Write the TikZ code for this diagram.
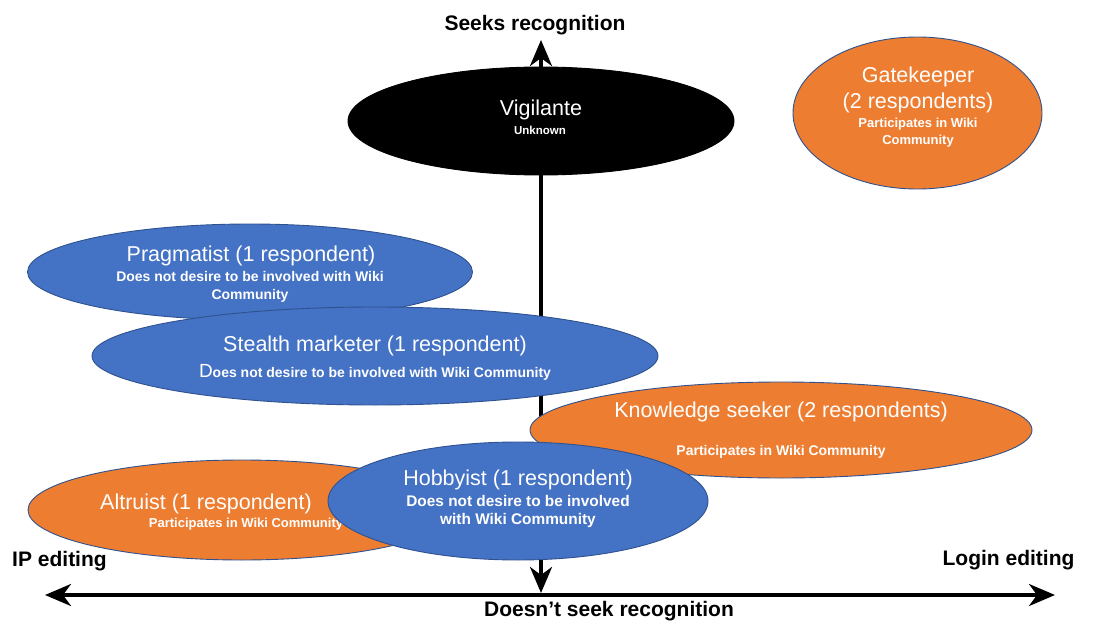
\documentclass[tikz,border=0pt]{standalone}
\usepackage{fontspec}
\setmainfont{Liberation Sans}
\usetikzlibrary{shapes.geometric,arrows.meta}
\definecolor{pblue}{HTML}{4472C4}
\definecolor{porange}{HTML}{ED7D31}
\definecolor{pedge}{HTML}{2F528F}
\tikzset{
  persona/.style={ellipse, draw=pedge, line width=0.9pt, inner sep=0pt},
  bluep/.style={persona, fill=pblue},
  orangep/.style={persona, fill=porange},
  blackp/.style={persona, fill=black, draw=black},
  ttl/.style={text=white, align=center, inner sep=0pt, yshift=-1.5pt, font=\fontsize{21.5}{26}\selectfont},
  sub/.style={text=white, align=center, inner sep=0pt, yshift=-1pt, font=\bfseries\fontsize{14}{18}\selectfont},
  axislbl/.style={inner sep=0pt, yshift=-1.5pt, font=\bfseries\fontsize{21}{24}\selectfont},
  axis/.style={line width=3.5pt, {Stealth[length=26pt,width=22pt,inset=8pt]}-{Stealth[length=26pt,width=22pt,inset=8pt]}}
}
\begin{document}
\begin{tikzpicture}[x=1pt,y=-1pt]
\useasboundingbox (0,0) rectangle (1111,623);
% axes
\coordinate (vtop) at (541,40);
\coordinate (vbot) at (541,593);
\coordinate (hl) at (45,595);
\coordinate (hr) at (1055,595);
\draw[axis] (vtop) -- (vbot);
\draw[axis] (hl) -- (hr);
\node[axislbl] (seeks) at (535,24) {Seeks recognition};
\node[axislbl] (noseek) at (609,610) {Doesn’t seek recognition};
\node[axislbl] (ip) at (59.5,560) {IP editing};
\node[axislbl] (login) at (1008.5,559) {Login editing};
% Vigilante
\node[blackp, minimum width=386pt, minimum height=108pt] (vig) at (541,121) {};
\node[ttl] (vigt) at (541,108) {Vigilante};
\node[sub, font=\bfseries\fontsize{11.5}{14}\selectfont] (vigs) at (540,129) {Unknown};
% Gatekeeper
\node[orangep, minimum width=249pt, minimum height=152pt] (gate) at (917.5,113) {};
\node[ttl] (gatet) at (918,88) {Gatekeeper\\(2 respondents)};
\node[sub, font=\bfseries\fontsize{13}{17}\selectfont] (gates) at (918,131.5) {Participates in Wiki\\Community};
% Pragmatist
\node[bluep, minimum width=445pt, minimum height=96pt] (prag) at (250,272) {};
\node[ttl] (pragt) at (251,254) {Pragmatist (1 respondent)};
\node[sub] (prags) at (250,286) {Does not desire to be involved with Wiki\\Community};
% Knowledge seeker
\node[orangep, minimum width=502pt, minimum height=96pt] (know) at (781,430) {};
\node[ttl] (knowt) at (781,410) {Knowledge seeker (2 respondents)};
\node[sub] (knows) at (781,451) {Participates in Wiki Community};
% Stealth marketer
\node[bluep, minimum width=566pt, minimum height=98pt] (stealth) at (375,356) {};
\node[ttl] (stealtht) at (375,344) {Stealth marketer (1 respondent)};
\node[sub] (stealths) at (375,371) {{\mdseries\fontsize{19}{20}\selectfont D}oes not desire to be involved with Wiki Community};
% Altruist
\node[orangep, minimum width=428pt, minimum height=100pt] (alt) at (242,510) {};
\node[ttl] (altt) at (206,502) {Altruist (1 respondent)};
\node[sub, font=\bfseries\fontsize{13}{16}\selectfont] (alts) at (246,523) {Participates in Wiki Community};
% Hobbyist
\node[bluep, minimum width=380pt, minimum height=118pt] (hob) at (518,501) {};
\node[ttl] (hobt) at (518,478) {Hobbyist (1 respondent)};
\node[sub, font=\bfseries\fontsize{15.4}{18}\selectfont] (hobs) at (518,511) {Does not desire to be involved\\with Wiki Community};
\end{tikzpicture}
\end{document}
